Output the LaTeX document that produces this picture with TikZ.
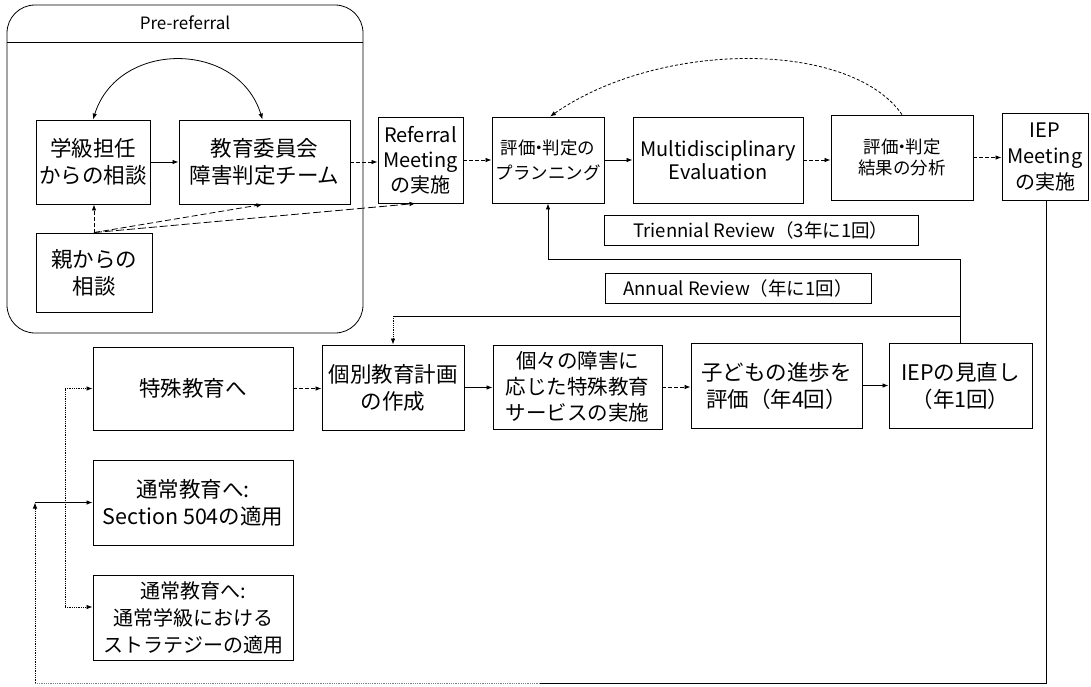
\documentclass[tikz,border=0pt]{standalone}
\usepackage{fontspec}
\setmainfont{Noto Sans CJK JP}
\usetikzlibrary{arrows.meta}
\newcommand{\nakaguro}{\hspace{-0.3em}・\hspace{-0.3em}}
\begin{document}
\begin{tikzpicture}[x=1pt,y=-1pt,
  box/.style={draw, line width=0.9pt, align=center, inner sep=0pt, font=\fontsize{21.5}{27}\selectfont},
  arr/.style={-{Latex[length=6pt,width=4.5pt]}, line width=0.8pt},
  dsh/.style={dash pattern=on 4pt off 2pt},
  ln/.style={line width=0.8pt}]
\useasboundingbox (0,0) rectangle (1091,686);

% pre-referral container
\node[draw, line width=0.8pt, rounded corners=28pt, minimum width=356pt, minimum height=328pt, inner sep=0pt] (prebox) at (185,169) {};
\coordinate (hdL) at (7,42);
\coordinate (hdR) at (363,42);
\draw[ln] (hdL) -- (hdR);
\node[font=\fontsize{17}{20}\selectfont] (pre) at (185,23) {Pre-referral};

% top row
\node[box, minimum width=114pt, minimum height=84pt] (gakkyu) at (93,162) {学級担任\\からの相談};
\node[box, minimum width=171pt, minimum height=84pt] (kyoiku) at (264.5,162) {教育委員会\\障害判定チーム};
\node[box, minimum width=85pt, minimum height=86pt, font=\fontsize{20}{25}\selectfont] (ref) at (420.5,160) {Referral\\Meeting\\の実施};
\node[box, minimum width=112pt, minimum height=86pt, font=\fontsize{17.5}{25}\selectfont] (plan) at (548,160) {評価\nakaguro 判定の\\プランニング};
\node[box, minimum width=170pt, minimum height=86pt, font=\fontsize{20}{23}\selectfont] (multi) at (718,160) {Multidisciplinary\\Evaluation};
\node[box, minimum width=142pt, minimum height=85pt, font=\fontsize{17.5}{21}\selectfont] (bunseki) at (902,157.5) {評価\nakaguro 判定\\結果の分析};
\node[box, minimum width=86pt, minimum height=87pt, font=\fontsize{20}{26}\selectfont] (iepm) at (1045,156.5) {IEP\\Meeting\\の実施};

\node[box, minimum width=116pt, minimum height=79pt] (oya) at (94,272.5) {親からの\\相談};

\node[box, minimum width=314pt, minimum height=30pt, font=\fontsize{18.5}{20}\selectfont] (tri) at (761,230) {Triennial Review（3年に1回）};
\node[box, minimum width=266pt, minimum height=30pt, font=\fontsize{18.5}{20}\selectfont] (ann) at (738,288) {Annual Review（年に1回）};

% lower row
\node[box, minimum width=142pt, minimum height=85pt] (kobetsu) at (393,387.5) {個別教育計画\\の作成};
\node[box, minimum width=169pt, minimum height=84pt, font=\fontsize{20.5}{26}\selectfont] (koko) at (577.5,387) {個々の障害に\\応じた特殊教育\\サービスの実施};
\node[box, minimum width=171pt, minimum height=85pt] (kodomo) at (776.5,385.5) {子どもの進歩を\\評価（年4回）};
\node[box, minimum width=143pt, minimum height=85pt] (iepr) at (960.5,385.5) {IEPの見直し\\（年1回）};

\node[box, minimum width=200pt, minimum height=83pt] (toku) at (193,388.5) {特殊教育へ};
\node[box, minimum width=200pt, minimum height=85pt] (s504) at (193,502.5) {通常教育へ:\\Section 504の適用};
\node[box, minimum width=200pt, minimum height=85pt, font=\fontsize{20}{27}\selectfont] (tsujo) at (193,617.5) {通常教育へ:\\通常学級における\\ストラテジーの適用};

% pre-referral connectors
\draw[arr, {Latex[length=6pt,width=4.5pt]}-{Latex[length=6pt,width=4.5pt]}] (gakkyu.north) .. controls (118,40) and (238,40) .. ([xshift=-2pt]kyoiku.north);
\draw[arr] (gakkyu.east) -- (gakkyu.east -| kyoiku.west);
\draw[arr, dsh] (kyoiku.east) -- (kyoiku.east -| ref.west);
\draw[arr, dsh] (oya.north) -- (oya.north |- gakkyu.south);
\draw[arr, dash pattern=on 6pt off 3pt] (oya.north) -- ([xshift=-2pt]kyoiku.south);
\draw[arr, dash pattern=on 8pt off 3pt] (oya.north) -- ([xshift=-5pt]ref.south);

% main row connectors
\draw[arr, dsh] (ref.east) -- (ref.east -| plan.west);
\draw[arr] (plan.east) -- (plan.east -| multi.west);
\draw[arr, dsh] (multi.east) -- (multi.east -| bunseki.west);
\draw[arr, dsh] (bunseki.east) -- (bunseki.east -| iepm.west);
\draw[arr, dash pattern=on 3pt off 2pt] (bunseki.north) .. controls (850,40) and (660,40) .. ([xshift=2pt]plan.north);

% annual review loop
\coordinate (lA) at (960.5,259);
\coordinate (lB) at (960.5,316);
\coordinate (lC) at (393,316);
\draw[arr] (iepr.north) -- (lA) -| (plan.south);
\draw[ln] (lB) -- (lC);
\draw[arr, densely dotted] (lC) -- (kobetsu.north);

% lower row connectors
\draw[arr, dsh] (toku.east) -- (toku.east -| kobetsu.west);
\draw[arr] (kobetsu.east) -- (kobetsu.east -| koko.west);
\draw[arr, dsh] (koko.east) -- (koko.east -| kodomo.west);
\draw[arr] (kodomo.east) -- (kodomo.east -| iepr.west);

% return loop
\coordinate (bR) at (1046,683);
\coordinate (bMid) at (540,683);
\coordinate (bL) at (35,683);
\coordinate (bM) at (35,502.5);
\draw[ln] (iepm.south -| bR) -- (bR) -- (bMid);
\draw[ln, densely dotted, gray] (bMid) -- (bL);
\draw[arr, densely dotted] (bL) -- (bM);
\draw[arr] (bM) -- (s504.west);

% branches
\coordinate (dT) at (65,388.5);
\coordinate (dB) at (65,607);
\draw[ln, densely dotted] (dT) -- (dB);
\draw[arr, densely dotted] (dT) -- (toku.west);
\draw[arr, densely dotted] (dB) -- (dB -| tsujo.west);
\end{tikzpicture}
\end{document}
